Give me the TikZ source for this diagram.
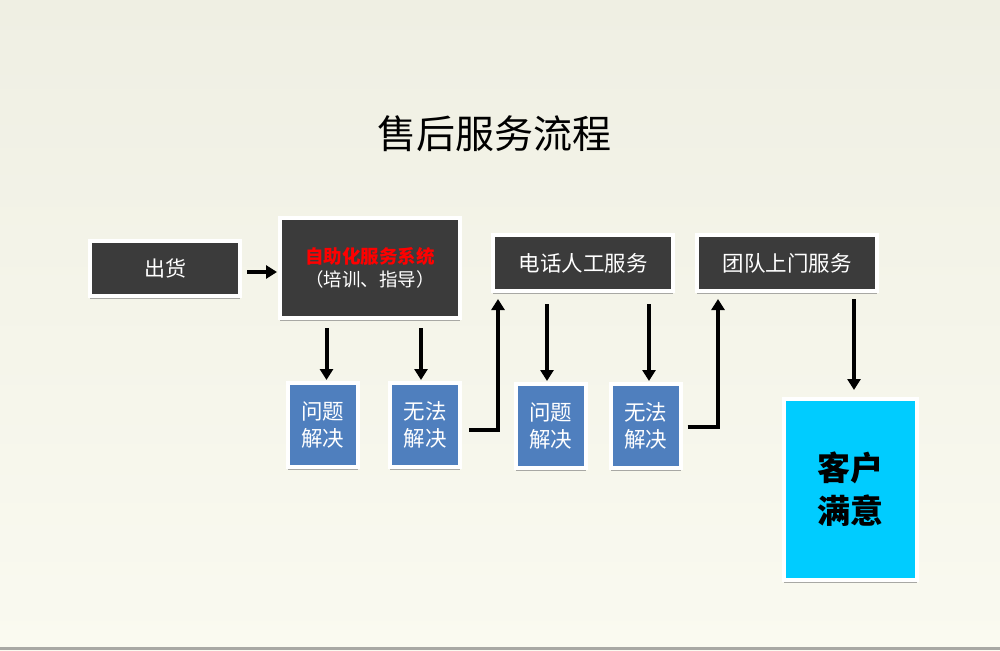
\documentclass[tikz,border=0pt]{standalone}
\usepackage{fontspec}
\newfontfamily\cjk{Noto Sans CJK SC}
\usetikzlibrary{arrows.meta,shadows}
\definecolor{bgtop}{HTML}{EFEFE3}
\definecolor{bgbot}{HTML}{FAFAF0}
\definecolor{darkbox}{HTML}{3B3B3B}
\definecolor{bluebox}{HTML}{4F7FBE}
\definecolor{cyanbox}{HTML}{00CCFF}
\definecolor{shadowgray}{HTML}{A8A8A4}
\begin{document}
\begin{tikzpicture}[x=1pt,y=-1pt,
  box/.style={draw=white,line width=4pt,inner sep=0pt,align=center,
    drop shadow={shadow xshift=0pt,shadow yshift=-3pt,fill=shadowgray,opacity=1}},
  darkb/.style={box,fill=darkbox,text=white},
  blueb/.style={box,fill=bluebox,text=white,minimum width=70pt,minimum height=84pt,
    font=\cjk\fontsize{21.5}{27}\selectfont},
  arr/.style={line width=4pt,-{Triangle[width=13pt,length=11pt]}}]
\useasboundingbox (0,0) rectangle (1000,650);
\shade[top color=bgtop,bottom color=bgbot] (0,0) rectangle (1000,650);
\fill[shadowgray] (0,647) rectangle (1000,650);

\node[font=\cjk\fontsize{39}{40}\selectfont] (title) at (494,134) {售后服务流程};

\node[darkb,minimum width=150pt,minimum height=55pt,font=\cjk\fontsize{21}{24}\selectfont] (chuhuo) at (165,268.5) {出货};
\node[darkb,minimum width=180pt,minimum height=100pt,font=\cjk\fontsize{18.5}{23}\selectfont] (zizhu) at (370,268)
  {\textcolor{red}{\bfseries 自助化服务系统}\\（培训、指导）};
\node[blueb] (wt1) at (322.5,425) {问题\\解决};
\node[blueb] (wf1) at (425,425) {无法\\解决};
\node[darkb,minimum width=180pt,minimum height=56pt,font=\cjk\fontsize{21.5}{24}\selectfont] (dh) at (583,263) {电话人工服务};
\node[blueb] (wt2) at (550.5,426) {问题\\解决};
\node[blueb] (wf2) at (645.5,426) {无法\\解决};
\node[darkb,minimum width=180pt,minimum height=56pt,font=\cjk\fontsize{21.5}{24}\selectfont] (td) at (787,263) {团队上门服务};
\node[box,fill=cyanbox,text=black,minimum width=133pt,minimum height=181pt,font=\cjk\bfseries\fontsize{33}{43}\selectfont] (kh) at (850.5,489.5) {客户\\满意};

\draw[arr] ([xshift=5pt,yshift=-3.5pt]chuhuo.east) -- ([xshift=-1pt,yshift=-3.5pt]zizhu.west |- chuhuo.east);
\draw[arr] ([xshift=4pt,yshift=-8pt]zizhu.south -| wt1.north) -- ([xshift=4pt,yshift=1pt]wt1.north);
\draw[arr] ([xshift=-4pt,yshift=-8pt]zizhu.south -| wf1.north) -- ([xshift=-4pt,yshift=1pt]wf1.north);
\draw[arr] ([xshift=7pt,yshift=-5pt]wf1.east) -| ([xshift=7pt,yshift=-6pt]dh.south west);
\draw[arr] ([xshift=-3.5pt,yshift=-11pt]dh.south -| wt2.north) -- ([xshift=-3.5pt,yshift=1pt]wt2.north);
\draw[arr] ([xshift=3.5pt,yshift=-11pt]dh.south -| wf2.north) -- ([xshift=3.5pt,yshift=1pt]wf2.north);
\draw[arr] ([xshift=5pt,yshift=-1pt]wf2.east) -| ([xshift=23pt,yshift=-6pt]td.south west);
\draw[arr] ([xshift=3.5pt,yshift=-6pt]td.south -| kh.north) -- ([xshift=3.5pt,yshift=7pt]kh.north);
\end{tikzpicture}
\end{document}
